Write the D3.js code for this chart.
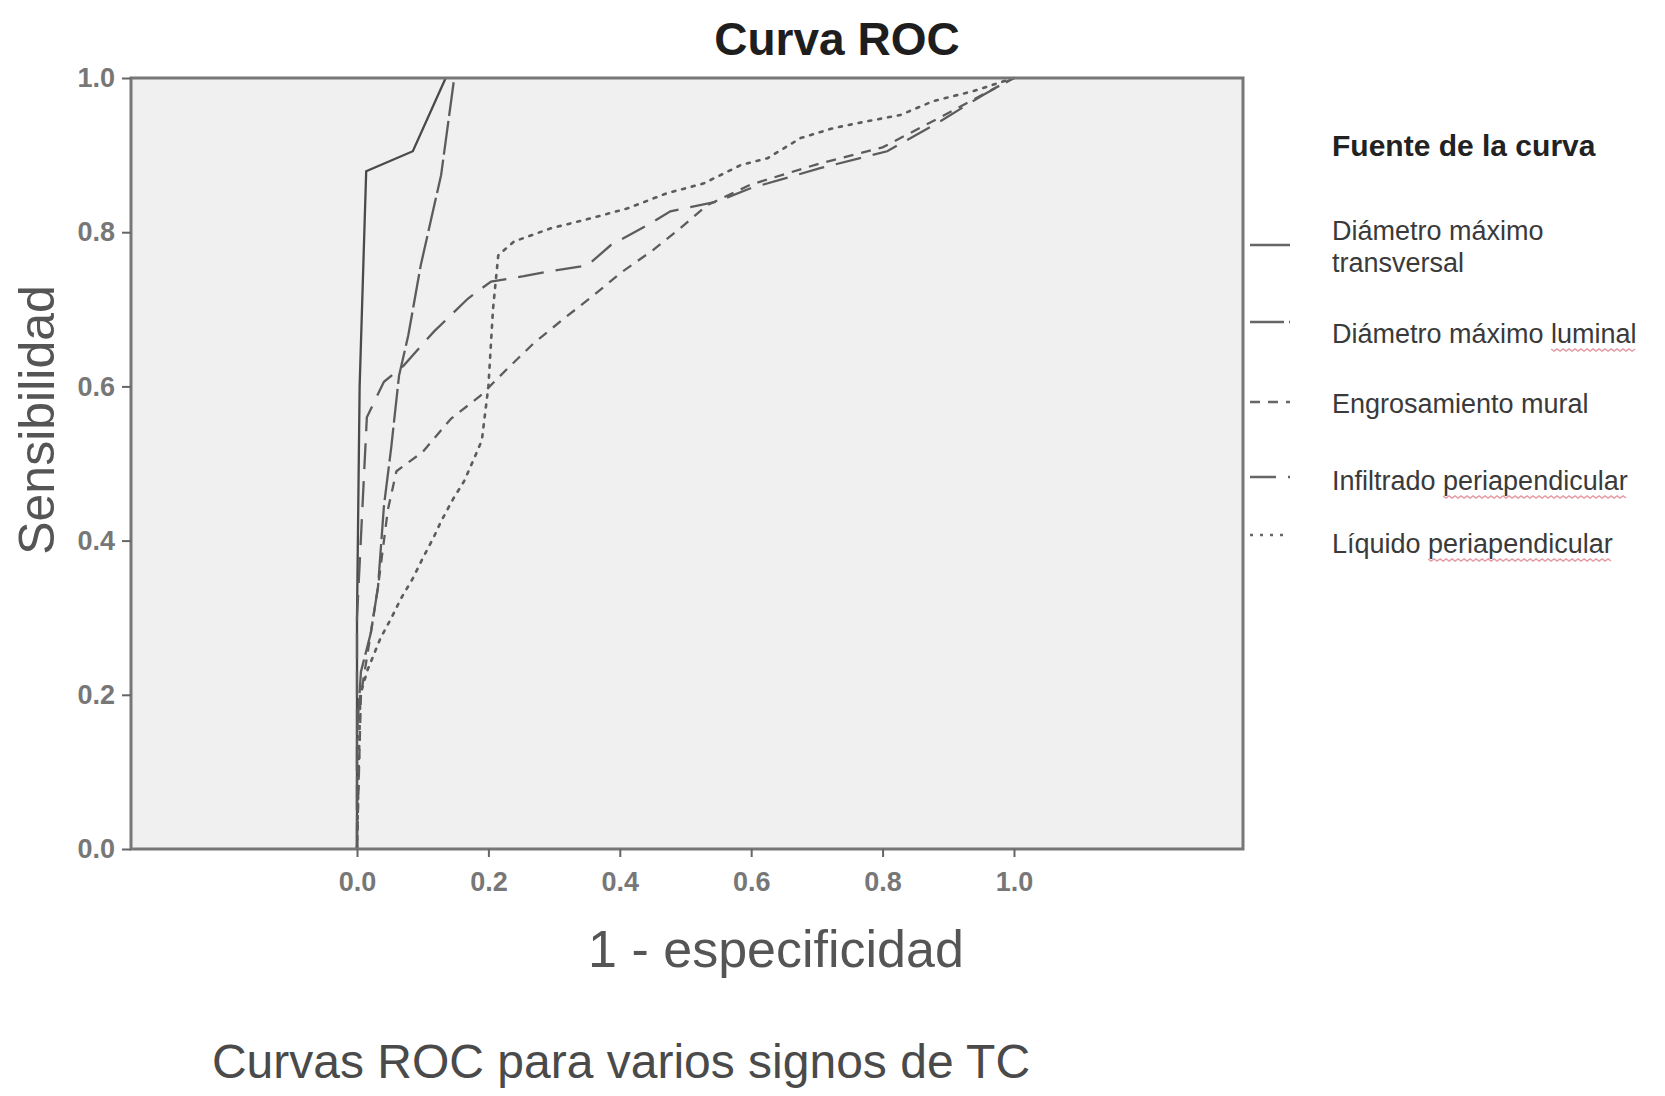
<!DOCTYPE html>
<html>
<head>
<meta charset="utf-8">
<script src="https://cdn.jsdelivr.net/npm/d3@7"></script>
<style>
  body { margin: 0; background: #fff; }
  svg { display: block; }
</style>
</head>
<body>
<div id="chart"></div>
<script>
// values: x = 1 - especificidad, y = sensibilidad
const transversal = [[0, 0], [0, 0.3], [0.004, 0.6], [0.014, 0.879], [0.085, 0.905], [0.135, 1]];
const luminal = [[0, 0], [0, 0.15], [0.006, 0.23], [0.021, 0.28], [0.032, 0.34], [0.041, 0.445],
  [0.052, 0.52], [0.064, 0.614], [0.078, 0.666], [0.097, 0.757], [0.128, 0.874], [0.148, 1]];
const engrosamiento = [[0, 0], [0.006, 0.2], [0.021, 0.28], [0.032, 0.34], [0.047, 0.44], [0.06, 0.49],
  [0.1, 0.515], [0.143, 0.558], [0.188, 0.588], [0.229, 0.623], [0.269, 0.656], [0.315, 0.688],
  [0.36, 0.718], [0.401, 0.747], [0.451, 0.777], [0.492, 0.805], [0.533, 0.835], [0.6, 0.862],
  [0.7, 0.888], [0.8, 0.91], [0.89, 0.95], [1, 1]];
const infiltrado = [[0, 0], [0, 0.3], [0.015, 0.56], [0.041, 0.606], [0.071, 0.627], [0.117, 0.671],
  [0.169, 0.714], [0.204, 0.736], [0.254, 0.743], [0.29, 0.749], [0.351, 0.757], [0.386, 0.783],
  [0.442, 0.809], [0.477, 0.827], [0.549, 0.84], [0.599, 0.857], [0.705, 0.883], [0.807, 0.905],
  [0.888, 0.944], [0.953, 0.978], [1, 1]];
const liquido = [[0, 0], [0.005, 0.2], [0.016, 0.232], [0.036, 0.274], [0.052, 0.299], [0.067, 0.325],
  [0.085, 0.351], [0.1, 0.377], [0.116, 0.403], [0.128, 0.425], [0.147, 0.455], [0.163, 0.477],
  [0.178, 0.506], [0.19, 0.53], [0.2, 0.6], [0.207, 0.7], [0.215, 0.77], [0.239, 0.788], [0.295, 0.805],
  [0.356, 0.818], [0.412, 0.831], [0.473, 0.851], [0.527, 0.863], [0.584, 0.887], [0.625, 0.896],
  [0.675, 0.922], [0.725, 0.935], [0.777, 0.944], [0.827, 0.952], [0.877, 0.97], [0.938, 0.983], [1, 1]];

const seriesNames = [['Diámetro máximo', 'transversal'], ['Diámetro máximo luminal'], ['Engrosamiento mural'],
  ['Infiltrado periapendicular'], ['Líquido periapendicular']];
const underlined = [null, 'luminal', null, 'periapendicular', 'periapendicular'];
const xTicks = [0, 0.2, 0.4, 0.6, 0.8, 1.0];
const yTicks = [0, 0.2, 0.4, 0.6, 0.8, 1.0];

const title = 'Curva ROC';
const xLabel = '1 - especificidad';
const yLabel = 'Sensibilidad';
const legendTitle = 'Fuente de la curva';
const caption = 'Curvas ROC para varios signos de TC';

const W = 1665, H = 1096;
const PLOT = { LEFT: 131, RIGHT: 1243, TOP: 78, BOTTOM: 849 };
const FONT = '"Liberation Sans", Arial, sans-serif';
const series = [transversal, luminal, engrosamiento, infiltrado, liquido];
const dashes = [null, '34,5', '10,8', '26,12', '3,7'];
const LEGEND = { lineX0: 1250, lineX1: 1290, textX: 1332,
  lineY: [245, 322, 402, 477, 535], textY: [[240, 272], [343], [413], [490], [553]] };

const svg = d3.select('#chart').append('svg')
  .attr('width', W)
  .attr('height', H);

// x axis only spans 0..1 in the middle of a wider frame
const x = d3.scaleLinear()
  .domain([-0.344, 1.3486])
  .range([PLOT.LEFT, PLOT.RIGHT]);
const y = d3.scaleLinear()
  .domain([0, 1])
  .range([PLOT.BOTTOM, PLOT.TOP]);

svg.append('rect')
  .attr('x', PLOT.LEFT)
  .attr('y', PLOT.TOP)
  .attr('width', PLOT.RIGHT - PLOT.LEFT)
  .attr('height', PLOT.BOTTOM - PLOT.TOP)
  .attr('fill', '#f0f0f0');

svg.append('clipPath').attr('id', 'clip')
  .append('rect')
  .attr('x', PLOT.LEFT)
  .attr('y', PLOT.TOP - 2)
  .attr('width', PLOT.RIGHT - PLOT.LEFT)
  .attr('height', PLOT.BOTTOM - PLOT.TOP + 2);

const line = d3.line()
  .x(d => x(d[0]))
  .y(d => y(d[1]));

const curves = svg.append('g').attr('clip-path', 'url(#clip)');
series.forEach((s, i) => {
  curves.append('path')
    .datum(s)
    .attr('d', line)
    .attr('fill', 'none')
    .attr('stroke', i === 0 ? '#4a4a4a' : '#5c5c5c')
    .attr('stroke-width', i === 4 ? 2.6 : 2.3)
    .attr('stroke-linecap', i === 4 ? 'round' : 'butt')
    .attr('stroke-dasharray', dashes[i]);
});

svg.append('rect')
  .attr('x', PLOT.LEFT)
  .attr('y', PLOT.TOP)
  .attr('width', PLOT.RIGHT - PLOT.LEFT)
  .attr('height', PLOT.BOTTOM - PLOT.TOP)
  .attr('fill', 'none')
  .attr('stroke', '#777')
  .attr('stroke-width', 3);

const xAxisGroup = svg.append('g')
  .attr('transform', `translate(0, ${PLOT.BOTTOM})`)
  .call(d3.axisBottom(x).tickValues(xTicks).tickFormat(d3.format('.1f')).tickSize(8).tickPadding(15));
const yAxisGroup = svg.append('g')
  .attr('transform', `translate(${PLOT.LEFT}, 0)`)
  .call(d3.axisLeft(y).tickValues(yTicks).tickFormat(d3.format('.1f')).tickSize(9).tickPadding(7));

[xAxisGroup, yAxisGroup].forEach(g => {
  g.select('.domain').remove();
  g.selectAll('.tick line').attr('stroke', '#666').attr('stroke-width', 2);
  g.selectAll('.tick text')
    .attr('fill', '#777')
    .style('font', `bold 27px ${FONT}`);
});

svg.append('text')
  .attr('x', 837)
  .attr('y', 55)
  .attr('text-anchor', 'middle')
  .attr('fill', '#1e1e1e')
  .style('font', `bold 46px ${FONT}`)
  .text(title);

svg.append('text')
  .attr('x', 776)
  .attr('y', 967)
  .attr('text-anchor', 'middle')
  .attr('fill', '#555')
  .style('font', `52px ${FONT}`)
  .text(xLabel);

svg.append('text')
  .attr('transform', 'translate(54, 420) rotate(-90)')
  .attr('text-anchor', 'middle')
  .attr('fill', '#555')
  .style('font', `50px ${FONT}`)
  .text(yLabel);

svg.append('text')
  .attr('x', 621)
  .attr('y', 1078)
  .attr('text-anchor', 'middle')
  .attr('fill', '#4a4a4a')
  .style('font', `48px ${FONT}`)
  .text(caption);

// legend
const legend = svg.append('g');
legend.append('text')
  .attr('x', LEGEND.textX)
  .attr('y', 156)
  .attr('fill', '#222')
  .style('font', `bold 30px ${FONT}`)
  .text(legendTitle);

seriesNames.forEach((lines, i) => {
  legend.append('line')
    .attr('x1', LEGEND.lineX0)
    .attr('x2', LEGEND.lineX1)
    .attr('y1', LEGEND.lineY[i])
    .attr('y2', LEGEND.lineY[i])
    .attr('stroke', '#666')
    .attr('stroke-width', 2.4)
    .attr('stroke-dasharray', dashes[i]);

  lines.forEach((txt, j) => {
    const t = legend.append('text')
      .attr('x', LEGEND.textX)
      .attr('y', LEGEND.textY[i][j])
      .attr('fill', '#3a3a3a')
      .style('font', `27px ${FONT}`)
      .text(txt);

    // faint spell-check squiggle seen under some words
    const word = underlined[i];
    if (word && txt.endsWith(word)) {
      const node = t.node();
      const start = txt.length - word.length;
      const x0 = LEGEND.textX + node.getSubStringLength(0, start);
      const w = node.getSubStringLength(start, word.length);
      const yb = LEGEND.textY[i][j] + 6;
      const pts = d3.range(0, w, 3).map((dx, k) => [x0 + dx, yb + (k % 2 ? 2 : 0)]);
      legend.append('path')
        .attr('d', d3.line()(pts))
        .attr('fill', 'none')
        .attr('stroke', '#e59aa4')
        .attr('stroke-width', 1.5);
    }
  });
});
</script>
</body>
</html>
